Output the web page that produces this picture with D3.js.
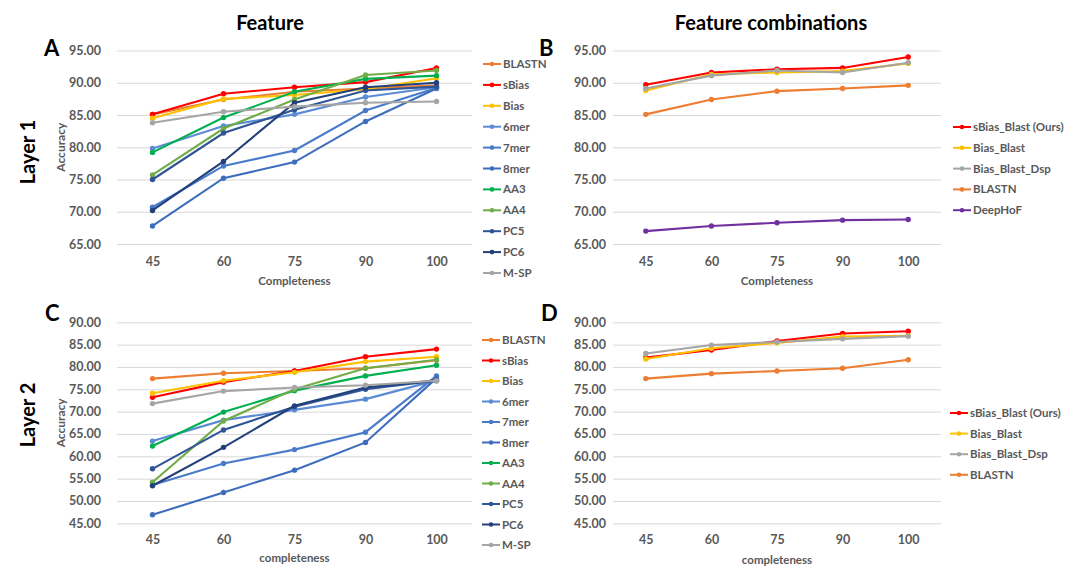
<!DOCTYPE html>
<html>
<head>
<meta charset="utf-8">
<script src="https://cdn.jsdelivr.net/npm/d3@7"></script>
<style>
  body { margin: 0; background: #fff; }
  svg { font-family: Lato, "Open Sans", sans-serif; }
</style>
</head>
<body>
<div id="chart"></div>
<script>
// x categories
const completeness = ["45", "60", "75", "90", "100"];

// single features
const featureNames = ["BLASTN", "sBias", "Bias", "6mer", "7mer", "8mer", "AA3", "AA4", "PC5", "PC6", "M-SP"];

const layer1Feature = [
  [85.1, 87.4, 88.6, 89.1, 89.6],
  [85.1, 88.3, 89.3, 90.1, 92.3],
  [84.5, 87.5, 88.1, 89.0, 90.7],
  [79.8, 83.3, 85.1, 87.8, 89.3],
  [70.7, 77.1, 79.5, 85.7, 89.2],
  [67.8, 75.2, 77.7, 84.0, 89.1],
  [79.2, 84.6, 88.6, 90.6, 91.1],
  [75.7, 82.9, 87.4, 91.2, 91.9],
  [75.0, 82.2, 85.8, 88.8, 89.4],
  [70.2, 77.8, 86.9, 89.3, 90.0],
  [83.8, 85.5, 86.3, 86.9, 87.1]
];

const layer2Feature = [
  [77.4, 78.6, 79.1, 79.7, 81.5],
  [73.2, 76.6, 79.1, 82.3, 84.0],
  [74.1, 76.9, 78.8, 81.2, 82.3],
  [63.4, 68.1, 70.4, 72.8, 77.0],
  [53.6, 58.4, 61.5, 65.4, 78.0],
  [46.9, 51.9, 56.9, 63.1, 77.5],
  [62.3, 69.9, 74.7, 78.0, 80.4],
  [54.2, 67.9, 75.0, 79.7, 81.6],
  [57.2, 65.9, 71.1, 75.0, 76.9],
  [53.4, 62.0, 71.3, 75.4, 77.0],
  [71.8, 74.6, 75.4, 75.9, 76.9]
];

// feature combinations
const comboNames1 = ["sBias_Blast (Ours)", "Bias_Blast", "Bias_Blast_Dsp", "BLASTN", "DeepHoF"];
const layer1Combo = [
  [89.7, 91.6, 92.1, 92.3, 94.0],
  [88.8, 91.3, 91.6, 91.8, 93.0],
  [89.1, 91.1, 91.9, 91.6, 93.1],
  [85.1, 87.4, 88.7, 89.1, 89.6],
  [67.0, 67.8, 68.3, 68.7, 68.8]
];

const comboNames2 = ["sBias_Blast (Ours)", "Bias_Blast", "Bias_Blast_Dsp", "BLASTN"];
const layer2Combo = [
  [82.1, 83.8, 85.8, 87.5, 88.0],
  [81.8, 84.2, 85.4, 86.8, 87.0],
  [83.0, 84.9, 85.6, 86.3, 86.9],
  [77.4, 78.5, 79.1, 79.7, 81.6]
];

const ticksLayer1 = [65, 70, 75, 80, 85, 90, 95];
const ticksLayer2 = [45, 50, 55, 60, 65, 70, 75, 80, 85, 90];

const colors = {
  "BLASTN": "#ED7D31", "sBias": "#FF0000", "Bias": "#FFC000",
  "6mer": "#5B8BD4", "7mer": "#4A7BCB", "8mer": "#3F6DBE",
  "AA3": "#00B050", "AA4": "#70AD47", "PC5": "#2F5597", "PC6": "#22407A",
  "M-SP": "#A5A5A5",
  "sBias_Blast (Ours)": "#FF0000", "Bias_Blast": "#FFC000",
  "Bias_Blast_Dsp": "#A5A5A5", "DeepHoF": "#7030A0"
};

const textGray = "#595959";

const svg = d3.select("#chart").append("svg")
  .attr("width", 1080)
  .attr("height", 580);

function drawPanel({ names, values, ticks, x0, x1, yTop, yBot, labelRight, tickY, titleY, xTitle, accX, letter, letterX, letterY, legX, legY, legStep }) {
  const x = d3.scalePoint().domain(completeness).range([x0, x1]).padding(0.5);
  const y = d3.scaleLinear().domain([ticks[0], ticks[ticks.length - 1]]).range([yBot, yTop]);

  const g = svg.append("g");

  // gridlines
  g.append("g")
    .attr("transform", `translate(${x0},0)`)
    .call(d3.axisLeft(y).tickValues(ticks).tickSize(-(x1 - x0)).tickFormat(""))
    .call(a => a.select(".domain").remove())
    .call(a => a.selectAll("line").attr("stroke", "#D9D9D9"));

  // y labels
  g.append("g")
    .attr("transform", `translate(${labelRight},0)`)
    .call(d3.axisLeft(y).tickValues(ticks).tickSize(0).tickPadding(0).tickFormat(d3.format(".2f")))
    .call(a => a.select(".domain").remove())
    .call(a => a.selectAll("text")
      .attr("fill", textGray).style("font-size", "12.5px").style("font-weight", "bold")
      .style("font-family", "Lato, sans-serif"));

  // x labels
  g.append("g")
    .attr("transform", `translate(0,${tickY - 5})`)
    .call(d3.axisBottom(x).tickSize(0).tickPadding(0))
    .call(a => a.select(".domain").remove())
    .call(a => a.selectAll("text")
      .attr("fill", textGray).style("font-size", "12.5px").style("font-weight", "bold")
      .style("font-family", "Lato, sans-serif"));

  g.append("text")
    .attr("x", (x0 + x1) / 2).attr("y", titleY + 4)
    .attr("text-anchor", "middle").attr("fill", textGray)
    .style("font-size", "11.5px").style("font-weight", "bold")
    .text(xTitle);

  if (accX) {
    g.append("text")
      .attr("transform", `translate(${accX + 4},${(yTop + yBot) / 2}) rotate(-90)`)
      .attr("text-anchor", "middle").attr("fill", textGray)
      .style("font-size", "12px").style("font-weight", "bold")
      .text("Accuracy");
  }

  g.append("text")
    .attr("x", letterX).attr("y", letterY)
    .attr("fill", "#000").style("font-size", "22px").style("font-weight", "bold")
    .text(letter);

  const line = d3.line()
    .x((d, i) => x(completeness[i]))
    .y(d => y(d));

  names.forEach((name, k) => {
    const s = g.append("g");
    s.append("path")
      .datum(values[k])
      .attr("d", line)
      .attr("fill", "none")
      .attr("stroke", colors[name])
      .attr("stroke-width", 2.1);
    s.selectAll("circle")
      .data(values[k])
      .join("circle")
      .attr("cx", (d, i) => x(completeness[i]))
      .attr("cy", d => y(d))
      .attr("r", 2.7)
      .attr("fill", colors[name]);
  });

  // legend
  const leg = g.append("g");
  names.forEach((name, k) => {
    const ly = legY + k * legStep;
    leg.append("line")
      .attr("x1", legX).attr("x2", legX + 18)
      .attr("y1", ly).attr("y2", ly)
      .attr("stroke", colors[name]).attr("stroke-width", 2);
    leg.append("circle")
      .attr("cx", legX + 9).attr("cy", ly).attr("r", 2.3)
      .attr("fill", colors[name]);
    leg.append("text")
      .attr("x", legX + 20).attr("y", ly + 4)
      .attr("fill", textGray)
      .style("font-size", "11.5px").style("font-weight", "bold")
      .text(name);
  });
}

drawPanel({ names: featureNames, values: layer1Feature, ticks: ticksLayer1,
  x0: 117, x1: 472, yTop: 50.5, yBot: 244, labelRight: 101, tickY: 262, titleY: 281,
  xTitle: "Completeness", accX: 61, letter: "A", letterX: 44, letterY: 56,
  legX: 483, legY: 64, legStep: 20.9 });

drawPanel({ names: comboNames1, values: layer1Combo, ticks: ticksLayer1,
  x0: 613, x1: 941, yTop: 50.5, yBot: 244, labelRight: 606, tickY: 262, titleY: 281,
  xTitle: "Completeness", accX: null, letter: "B", letterX: 539, letterY: 56,
  legX: 953, legY: 127, legStep: 20.8 });

drawPanel({ names: featureNames, values: layer2Feature, ticks: ticksLayer2,
  x0: 117, x1: 472, yTop: 322.3, yBot: 523.3, labelRight: 101, tickY: 540, titleY: 558,
  xTitle: "completeness", accX: 61, letter: "C", letterX: 45, letterY: 321,
  legX: 482, legY: 340, legStep: 20.5 });

drawPanel({ names: comboNames2, values: layer2Combo, ticks: ticksLayer2,
  x0: 613, x1: 941, yTop: 322.3, yBot: 523.3, labelRight: 606, tickY: 540, titleY: 560,
  xTitle: "completeness", accX: null, letter: "D", letterX: 541, letterY: 321,
  legX: 950, legY: 413, legStep: 20.6 });

// column titles and row labels
svg.append("text").attr("x", 270).attr("y", 30).attr("text-anchor", "middle")
  .style("font-size", "20px").style("font-weight", "bold").text("Feature");
svg.append("text").attr("x", 771).attr("y", 30).attr("text-anchor", "middle")
  .style("font-size", "20px").style("font-weight", "bold").text("Feature combinations");
svg.append("text").attr("transform", "translate(35,152) rotate(-90)").attr("text-anchor", "middle")
  .style("font-size", "20px").style("font-weight", "bold").text("Layer 1");
svg.append("text").attr("transform", "translate(35,415) rotate(-90)").attr("text-anchor", "middle")
  .style("font-size", "20px").style("font-weight", "bold").text("Layer 2");
</script>
</body>
</html>
